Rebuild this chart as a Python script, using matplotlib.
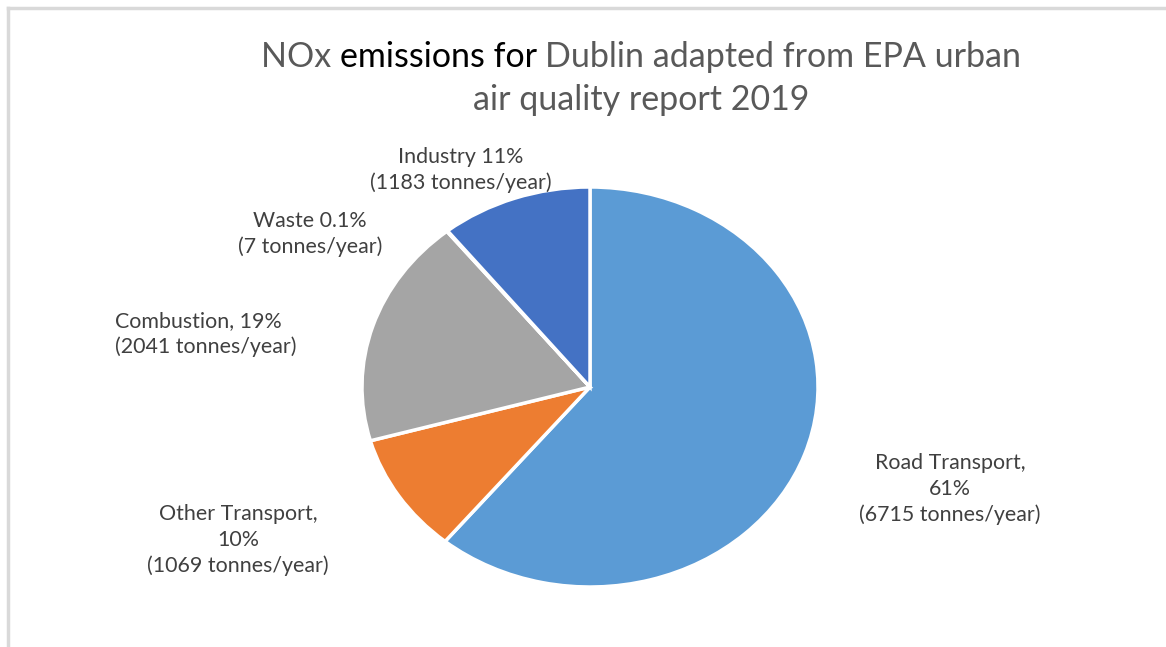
import matplotlib
matplotlib.use("Agg")
import matplotlib.pyplot as plt
from matplotlib.lines import Line2D

categories = ["Road Transport", "Other Transport", "Combustion", "Waste", "Industry"]
tonnes = [6715, 1069, 2041, 7, 1183]
pct_labels = ["Road Transport,\n61%\n(6715 tonnes/year)",
              "Other Transport,\n10%\n(1069 tonnes/year)",
              "Combustion, 19%\n(2041 tonnes/year)",
              "Waste 0.1%\n(7 tonnes/year)",
              "Industry 11%\n(1183 tonnes/year)"]
colors = ["#5B9BD5", "#ED7D31", "#A5A5A5", "#FFC000", "#4472C4"]

FONT = "Lato"
W, H = 1166, 647
fig = plt.figure(figsize=(W / 100, H / 100), dpi=100)
fig.patch.set_facecolor("white")

# border lines (top and left)
fig.add_artist(Line2D([8 / W, 1], [1 - 8 / H, 1 - 8 / H], color="#D9D9D9", lw=2.5, transform=fig.transFigure))
fig.add_artist(Line2D([8 / W, 8 / W], [1 - 8 / H, 0], color="#D9D9D9", lw=2.5, transform=fig.transFigure))

# pie axes: centre (590,387), rx 228, ry 200
cx, cy, rx, ry = 590, 387, 228, 200
ax = fig.add_axes([(cx - rx) / W, (H - cy - ry) / H, 2 * rx / W, 2 * ry / H])
ax.pie(tonnes, colors=colors, startangle=90, counterclock=False,
       wedgeprops=dict(edgecolor="white", linewidth=2.5))
ax.set_aspect("auto")
ax.set_xlim(-1, 1)
ax.set_ylim(-1, 1)
ax.axis("off")

# data labels (positions in figure pixels)
label_pos = {
    "Road Transport": (950, 489, "center"),
    "Other Transport": (238, 540, "center"),
    "Combustion": (115, 334, "left"),
    "Waste": (310, 234, "center"),
    "Industry": (461, 170, "center"),
}
for cat, lab in zip(categories, pct_labels):
    x, y, ha = label_pos[cat]
    fig.text(x / W, 1 - y / H, lab, ha=ha, va="center", multialignment=ha,
             fontsize=15.4, color="#404040", family=FONT, linespacing=1.36)

# title with mixed colours
gray, black = "#595959", "#000000"
tsize = 24.5
parts = [("NOx ", gray), ("emissions for ", black), ("Dublin adapted from EPA urban", gray)]
fig.canvas.draw()
r = fig.canvas.get_renderer()
texts = []
for s, c in parts:
    t = fig.text(0, 1 - 57 / H, s, fontsize=tsize, color=c, family=FONT, va="center", ha="left")
    texts.append(t)
widths = [t.get_window_extent(r).width for t in texts]
total = sum(widths)
x0 = 641 - total / 2
for t, w in zip(texts, widths):
    t.set_x(x0 / W)
    x0 += w
fig.text(641 / W, 1 - 100 / H, "air quality report 2019", fontsize=tsize, color=gray,
         family=FONT, va="center", ha="center")

fig.savefig("out.png", dpi=100, facecolor="white")
